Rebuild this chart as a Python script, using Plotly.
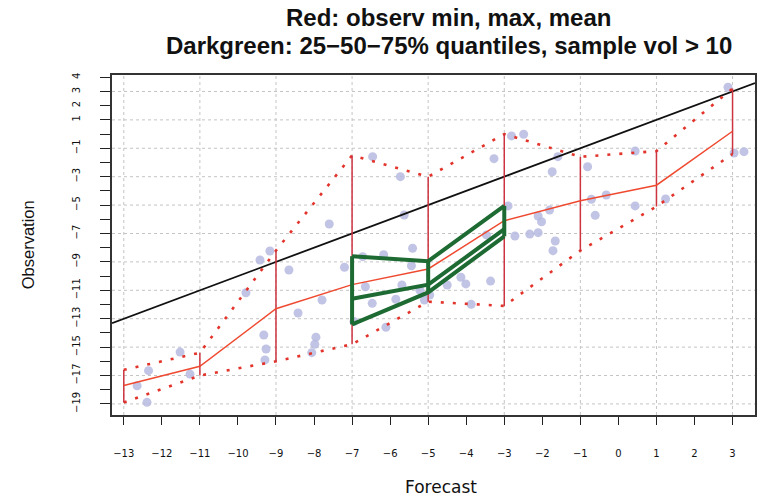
import plotly.graph_objects as go

# Forecast bins (bin centres) and observed statistics per bin
bins = [-13, -11, -9, -7, -5, -3, -1, 1, 3]
obs_min = [-18.9, -17.0, -16.0, -14.8, -11.8, -12.1, -8.2, -5.1, -1.4]
obs_max = [-16.6, -15.4, -8.2, -1.5, -3.0, 0.0, -1.6, -1.2, 3.2]
obs_mean = [-17.7, -16.35, -12.3, -10.6, -9.5, -6.1, -4.7, -3.6, 0.2]

# Quantiles for bins with more than 10 samples
q_bins = [-7, -5, -3]
q25 = [-13.4, -11.15, -7.2]
q50 = [-11.6, -10.6, -6.7]
q75 = [-8.6, -8.95, -5.05]

# Individual forecast / observation pairs
pts_x = [-12.65, -12.39, -12.35, -11.52, -11.26,
         -9.79, -9.42, -9.16, -8.66, -8.42, -9.32, -9.26, -9.29,
         -7.6, -7.79, -7.95, -7.98, -8.06,
         -7.2, -6.72, -6.46, -6.95, -6.65, -6.47, -6.17, -6.11, -5.85, -5.73,
         -5.69, -5.63, -5.41, -5.44, -5.22, -5.1, -4.96,
         -4.5, -4.14, -4.01, -3.87, -3.36, -3.47, -3.27, -2.81, -2.49, -2.9,
         -2.72, -2.33, -2.11, -2.11, -2.02, -1.81, -1.74, -1.66, -1.72, -1.59,
         -0.81, -0.71, -0.61, -0.32, 0.44, 0.44, 1.24, 2.88, 3.04, 3.3]
pts_y = [-17.72, -18.89, -16.66, -15.35, -16.9,
         -11.17, -8.87, -8.23, -9.57, -12.6, -14.15, -15.13, -15.9,
         -6.33, -11.68, -14.3, -14.8, -15.39,
         -9.38, -8.63, -1.59, -13.2, -10.75, -11.92, -8.49, -13.6, -11.63, -3.0,
         -10.63, -5.7, -8.04, -9.27, -10.98, -11.68, -11.33,
         -10.63, -10.08, -10.55, -11.99, -10.35, -7.1, -1.73, -0.13, -0.01, -5.06,
         -7.18, -7.04, -6.94, -5.77, -6.17, -5.35, -2.65, -7.53, -8.21, -1.59,
         -2.3, -4.59, -5.72, -4.29, -1.19, -5.06, -4.57, 3.3, -1.33, -1.24]

x_ticks = list(range(-13, 4))
y_ticks = list(range(-19, 5))
y_labelled = [4, 3, 2, 1, -1, -3, -5, -7, -9, -11, -13, -15, -17, -19]
x_grid = list(range(-13, 4, 2))
y_grid = list(range(3, -20, -2))

title_lines = ["Red: observ min, max, mean",
               "Darkgreen: 25\u221250\u221275% quantiles, sample vol > 10"]

X_RANGE = [-13.31, 3.59]
Y_RANGE = [-19.78, 4.16]


def fmt(v):
    return str(v).replace("-", "\u2212")


def segments(xs, lo, hi):
    sx, sy = [], []
    for x, a, b in zip(xs, lo, hi):
        sx += [x, x, None]
        sy += [a, b, None]
    return sx, sy


fig = go.Figure()

# observations
fig.add_trace(go.Scatter(
    x=pts_x, y=pts_y, mode="markers",
    marker=dict(size=9, color="#b6badf", opacity=0.85, line=dict(width=0)),
    hoverinfo="skip"))

# 1:1 line
fig.add_trace(go.Scatter(
    x=X_RANGE, y=X_RANGE, mode="lines",
    line=dict(color="#111111", width=1.8), hoverinfo="skip"))

# min / max envelope (dotted)
for series in (obs_max, obs_min):
    fig.add_trace(go.Scatter(
        x=bins, y=series, mode="lines",
        line=dict(color="#e2342b", width=2.6, dash="3px,9px"),
        hoverinfo="skip"))

# min-max ranges
sx, sy = segments(bins, obs_min, obs_max)
fig.add_trace(go.Scatter(
    x=sx, y=sy, mode="lines",
    line=dict(color="#cc3440", width=1.5), hoverinfo="skip"))

# mean
fig.add_trace(go.Scatter(
    x=bins, y=obs_mean, mode="lines",
    line=dict(color="#ef4a30", width=1.5), hoverinfo="skip"))

# quantiles
green = "#1d6a33"
gx, gy = segments(q_bins, q25, q75)
fig.add_trace(go.Scatter(x=gx, y=gy, mode="lines",
                         line=dict(color=green, width=4), hoverinfo="skip"))
for q in (q25, q50, q75):
    fig.add_trace(go.Scatter(x=q_bins, y=q, mode="lines",
                             line=dict(color=green, width=4), hoverinfo="skip"))

# dotted grid
shapes = []
for gxv in x_grid:
    shapes.append(dict(type="line", xref="x", yref="paper", x0=gxv, x1=gxv,
                       y0=0, y1=1, layer="below",
                       line=dict(color="#c4c4c4", width=1, dash="dot")))
for gyv in y_grid:
    shapes.append(dict(type="line", xref="paper", yref="y", x0=0, x1=1,
                       y0=gyv, y1=gyv, layer="below",
                       line=dict(color="#c4c4c4", width=1, dash="dot")))

title_font = dict(family="Liberation Sans, Arial, sans-serif", size=24,
                  weight="bold", color="#111111")
title_x = (450 - 112) / 645

fig.update_layout(
    width=758, height=497,
    margin=dict(l=112, r=1, t=75, b=82),
    paper_bgcolor="white", plot_bgcolor="white",
    showlegend=False,
    shapes=shapes,
    font=dict(family="Liberation Sans, Arial, sans-serif", color="#111111"),
    xaxis=dict(
        range=X_RANGE, tickmode="array", tickvals=x_ticks,
        ticktext=[fmt(v) for v in x_ticks],
        ticks="outside", ticklen=8, tickwidth=1, tickcolor="#222",
        ticklabelstandoff=20,
        tickfont=dict(size=10, family="DejaVu Sans", color="#111"),
        showgrid=False, zeroline=False,
        showline=True, linecolor="#333", linewidth=1.5, mirror=True),
    yaxis=dict(
        range=Y_RANGE, tickmode="array", tickvals=y_ticks,
        ticktext=[fmt(v) if v in y_labelled else "" for v in y_ticks],
        tickangle=-90,
        ticks="outside", ticklen=10, tickwidth=1, tickcolor="#222",
        ticklabelstandoff=16,
        tickfont=dict(size=10, family="DejaVu Sans", color="#111"),
        showgrid=False, zeroline=False,
        showline=True, linecolor="#333", linewidth=1.5, mirror=True),
    annotations=[
        dict(text=title_lines[0], xref="paper", yref="paper",
             x=title_x, y=1 + (75 - 18) / 340, xanchor="center", yanchor="middle",
             showarrow=False, font=title_font),
        dict(text=title_lines[1], xref="paper", yref="paper",
             x=title_x, y=1 + (75 - 45) / 340, xanchor="center", yanchor="middle",
             showarrow=False, font=title_font),
        dict(text="Observation", xref="paper", yref="paper",
             x=(28 - 112) / 645, y=0.5, xanchor="center", yanchor="middle",
             textangle=-90, showarrow=False,
             font=dict(size=16.5, family="Liberation Sans", color="#111")),
        dict(text="Forecast", xref="paper", yref="paper",
             x=(442 - 112) / 645, y=(415 - 487) / 340,
             xanchor="center", yanchor="middle", showarrow=False,
             font=dict(size=17, family="DejaVu Sans", color="#111")),
    ],
)

fig.write_html("out.html")
